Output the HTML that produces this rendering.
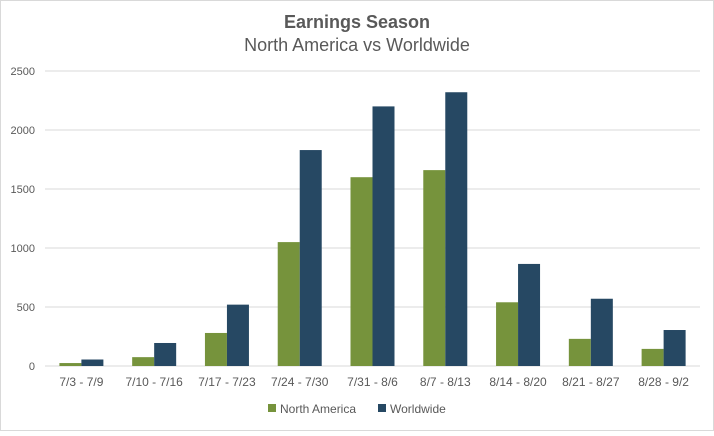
<!DOCTYPE html>
<html><head><meta charset="utf-8"><style>
body{margin:0;background:#fff;font-family:"Liberation Sans",sans-serif;}
#wrap{position:relative;width:714px;height:431px;}
</style></head><body>
<div id="wrap">
<svg id="chart" width="714" height="431" xmlns="http://www.w3.org/2000/svg">
<rect x="0.5" y="0.5" width="713" height="430" fill="#fff" stroke="#d9d9d9"/>
<text x="357" y="28" text-anchor="middle" font-size="18" font-weight="bold" fill="#595959">Earnings Season</text>
<text x="357" y="51" text-anchor="middle" font-size="18" fill="#595959">North America vs Worldwide</text>
<g id="grid"></g><g id="bars"></g><g id="xlabels"></g>
<rect x="268" y="404" width="8" height="8" fill="#76933c"/>
<text x="280" y="413" font-size="12" fill="#595959">North America</text>
<rect x="378" y="404" width="8" height="8" fill="#264863"/>
<text x="390" y="413" font-size="12" fill="#595959">Worldwide</text>
</svg></div>
<script>
const categories=["7/3 - 7/9","7/10 - 7/16","7/17 - 7/23","7/24 - 7/30","7/31 - 8/6","8/7 - 8/13","8/14 - 8/20","8/21 - 8/27","8/28 - 9/2"];
const northAmerica=[25,75,280,1050,1600,1660,540,230,145];
const worldwide=[55,195,520,1830,2200,2320,865,570,305];
const yTicks=[0,500,1000,1500,2000,2500];
const NS="http://www.w3.org/2000/svg";
const left=45,right=700,y0=366,yTop=71,yMax=2500;
const y=v=>y0-(v/yMax)*(y0-yTop);
const bw=(right-left)/categories.length;
const xc=i=>left+bw*(i+0.5);
function mk(tag,attrs,parent){const e=document.createElementNS(NS,tag);for(const k in attrs)e.setAttribute(k,attrs[k]);document.getElementById(parent).appendChild(e);return e;}
yTicks.forEach(t=>{
  const l=mk('line',{x1:left,x2:right,y1:y(t),y2:y(t),stroke:'#d9d9d9','stroke-width':1},'grid');
  
  
  const tx=mk('text',{x:35,y:y(t)+4,'text-anchor':'end','font-size':11,fill:'#595959'},'grid');
  tx.textContent=t;
  
  
});
const barW=22;
categories.forEach((c,i)=>{
  const a=mk('rect',{x:xc(i)-barW,y:y(northAmerica[i]),width:barW,height:y0-y(northAmerica[i]),fill:'#76933c'},'bars');
  
  
  const b=mk('rect',{x:xc(i),y:y(worldwide[i]),width:barW,height:y0-y(worldwide[i]),fill:'#264863'},'bars');
  
  
  const t=mk('text',{x:xc(i),y:386,'text-anchor':'middle','font-size':12,fill:'#595959'},'xlabels');
  t.textContent=c;
  
  
});
</script>
</body></html>
